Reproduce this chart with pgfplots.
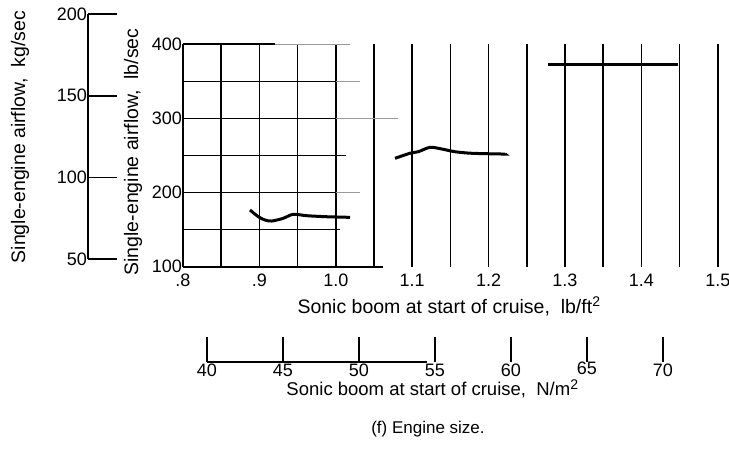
\documentclass[border=0pt]{standalone}
\usepackage{fontspec}
\setmainfont{Liberation Sans}
\usepackage{pgfplots}
\pgfplotsset{compat=1.18}

\newcommand{\lblfont}{\fontsize{19.5}{21}\selectfont}
\newcommand{\tckfont}{\fontsize{18}{19}\selectfont}
\newcommand{\sqr}{\raisebox{0.65ex}{\fontsize{14}{14}\selectfont 2}}

\pgfplotsset{
  every axis/.append style={
    /pgf/number format/assume math mode=true,
    tick label style={font=\tckfont},
    label style={font=\lblfont},
  },
}

\begin{document}
\begin{tikzpicture}[x=1pt,y=1pt]
\useasboundingbox (0,0) rectangle (729,448);

% ---- main chart: airflow (lb/sec) against sonic boom (lb/ft^2) ----
\begin{axis}[
  at={(183pt,181.3pt)}, anchor=south west,
  scale only axis, width=534.8pt, height=222.4pt,
  xmin=0.8, xmax=1.5, ymin=100, ymax=400,
  axis y line*=left, axis x line*=bottom,
  x axis line style={draw=none},
  y axis line style={line width=1.8pt},
  xtick={0.8,0.9,1.0,1.1,1.2,1.3,1.4,1.5},
  xticklabels={.8,.9,1.0,1.1,1.2,1.3,1.4,1.5},
  minor xtick={0.85,0.95,1.05,1.15,1.25,1.35,1.45},
  ytick={100,200,300,400},
  major tick length=0pt, minor tick length=0pt,
  xmajorgrids, xminorgrids,
  major grid style={black, line width=1.5pt},
  minor grid style={black, line width=1.5pt},
  xticklabel style={yshift=-4pt},
  yticklabel style={inner sep=1pt},
  xlabel={Sonic boom at start of cruise,\ \ lb/ft\sqr},
  xlabel style={at={(axis description cs:0.497,-0.177)}, anchor=center},
  ylabel={Single-engine airflow,\ \ lb/sec},
  ylabel style={at={(axis description cs:-0.0935,0.516)}, anchor=center},
  clip=false,
]
% partial horizontal rules of the grid
\draw[black, line width=1.8pt] (axis cs:0.8,100) -- (axis cs:1.062,100);
\draw[black, line width=1.5pt] (axis cs:0.8,150) -- (axis cs:1.005,150);
\draw[black, line width=1.5pt] (axis cs:0.8,200) -- (axis cs:1.0,200);
\draw[gray!80, line width=1.3pt] (axis cs:1.0,200) -- (axis cs:1.032,200);
\draw[black, line width=1.5pt] (axis cs:0.8,250) -- (axis cs:1.014,250);
\draw[black, line width=1.5pt] (axis cs:0.8,300) -- (axis cs:1.0,300);
\draw[gray!80, line width=1.3pt] (axis cs:1.0,300) -- (axis cs:1.081,300);
\draw[black, line width=1.5pt] (axis cs:0.8,350) -- (axis cs:1.0,350);
\draw[gray!80, line width=1.3pt] (axis cs:1.0,350) -- (axis cs:1.032,350);
\draw[black, line width=1.6pt] (axis cs:0.8,400) -- (axis cs:0.92,400);
\draw[gray!80, line width=1.3pt] (axis cs:0.92,400) -- (axis cs:1.019,400);

% airflow curves
\addplot[black, line width=3pt, smooth, tension=0.5] coordinates {
  (0.8877,176.5) (0.8986,167.4) (0.9073,163.0) (0.9161,161.6)
  (0.9313,165.3) (0.9444,170.7) (0.9619,168.8) (0.9881,167.4) (1.0186,166.6)
};
\addplot[black, line width=3pt, smooth, tension=0.5] coordinates {
  (1.0775,246.2) (1.0971,253.0) (1.1080,255.1) (1.1233,261.0)
  (1.1386,258.8) (1.1560,255.1) (1.1779,253.0) (1.2171,252.0) (1.2215,252.0)
};
\addplot[black, line width=3pt] coordinates {
  (1.278,373.3) (1.4483,373.3)
};
\end{axis}

% ---- companion scale: airflow in kg/sec ----
\begin{axis}[
  at={(88pt,188.9pt)}, anchor=south west,
  scale only axis, width=29pt, height=245.1pt,
  xmin=0, xmax=1, ymin=50, ymax=200,
  axis y line*=left, axis x line=none,
  y axis line style={line width=1.8pt},
  ytick={50,100,150,200},
  tick align=inside, major tick length=29pt,
  major tick style={black, line width=1.8pt},
  yticklabel style={inner sep=1pt},
  ylabel={Single-engine airflow,\ \ kg/sec},
  ylabel style={at={(axis description cs:-2.345,0.498)}, anchor=center},
]
\addplot[draw=none] coordinates {(0,50) (1,200)};
\end{axis}

% ---- companion scale: sonic boom in N/m^2 ----
\begin{axis}[
  at={(207pt,86pt)}, anchor=south west,
  scale only axis, width=456pt, height=30pt,
  xmin=40, xmax=70, ymin=0, ymax=1,
  axis x line*=bottom, axis y line=none,
  x axis line style={draw=none},
  xtick={40,45,50,55,60,65,70},
  xticklabels={40,45,50,55,60,\raisebox{2.5pt}[\height][\depth]{65},70},
  tick align=inside, major tick length=25pt,
  major tick style={black, line width=1.8pt},
  xticklabel style={inner sep=1pt, yshift=-1pt},
  xlabel={\fontsize{18.5}{20}\selectfont Sonic boom at start of cruise,\ \ N/m\sqr},
  xlabel style={at={(axis description cs:0.494,-0.9)}, anchor=center},
  clip=false,
]
\addplot[draw=none] coordinates {(40,0) (70,1)};
\draw[black, line width=1.6pt] (axis cs:40,0) -- (axis cs:54.5,0);
\end{axis}

\node[font=\fontsize{17}{18}\selectfont] at (428,19) {(f) Engine size.};
\end{tikzpicture}
\end{document}
